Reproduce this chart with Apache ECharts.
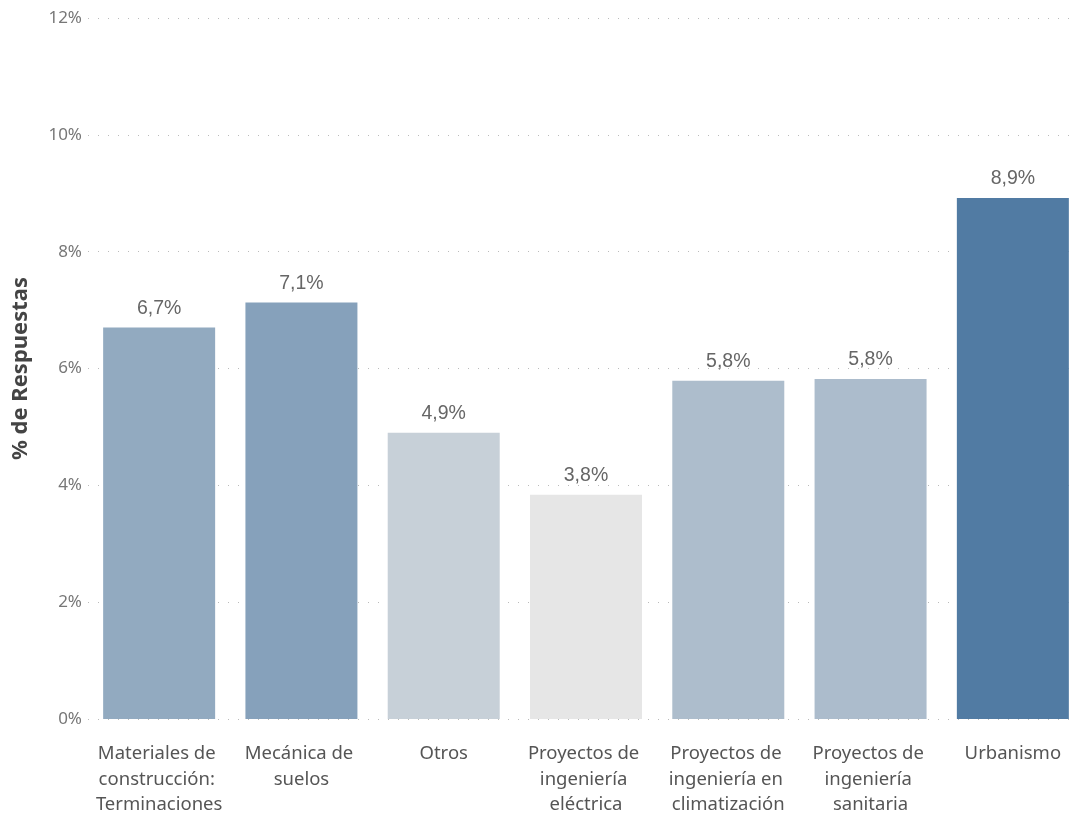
<!DOCTYPE html>
<html>
<head>
<meta charset="utf-8">
<script src="https://cdn.jsdelivr.net/npm/echarts@6/dist/echarts.min.js"></script>
<style>
  html, body { margin: 0; padding: 0; background: #fff; }
  #chart { width: 1076px; height: 821px; }
</style>
</head>
<body>
<div id="chart"></div>
<script>
// categorías y valores (% de respuestas)
const categories = [
  'Materiales de construcción: Terminaciones',
  'Mecánica de suelos',
  'Otros',
  'Proyectos de ingeniería eléctrica',
  'Proyectos de ingeniería en climatización',
  'Proyectos de ingeniería sanitaria',
  'Urbanismo'
]
const values = [6.7, 7.13, 4.9, 3.84, 5.79, 5.82, 8.92]
const yTicks = [0, 2, 4, 6, 8, 10, 12]

const chart = echarts.init(document.getElementById('chart'))

chart.setOption({
  animation: false,
  textStyle: { fontFamily: "'Segoe UI', 'Noto Sans', sans-serif" },
  grid: { left: 88, top: 18, width: 996, height: 701, containLabel: false, outerBoundsMode: 'none' },
  // escala de color según valor (gris claro -> azul)
  visualMap: {
    show: false,
    type: 'continuous',
    dimension: 1,
    min: Math.min(...values),
    max: Math.max(...values),
    inRange: { color: ['#e6e6e6', '#517ba3'] }
  },
  xAxis: {
    type: 'category',
    data: categories,
    axisLine: { show: false },
    axisTick: { show: false },
    axisLabel: {
      interval: 0,
      margin: 22,
      width: 134,
      overflow: 'break',
      lineHeight: 25.5,
      fontSize: 18.5,
      color: '#555'
    }
  },
  yAxis: {
    type: 'value',
    min: yTicks[0],
    max: yTicks[yTicks.length - 1],
    interval: yTicks[1] - yTicks[0],
    name: '% de Respuestas',
    nameLocation: 'middle',
    nameGap: 56,
    nameTextStyle: { fontSize: 22, fontWeight: 'bold', color: '#444' },
    axisLabel: {
      margin: 6,
      fontSize: 17,
      color: '#777',
      formatter: v => v + '%'
    },
    splitLine: {
      lineStyle: { type: [1, 9], color: '#bbb', width: 1 }
    }
  },
  series: [
    {
      type: 'bar',
      data: values,
      barWidth: 112,
      label: {
        show: true,
        position: 'top',
        distance: 9,
        fontSize: 19.5,
        color: '#666',
        fontFamily: "'Liberation Sans', Arial, sans-serif",
        formatter: p => p.value.toFixed(1).replace('.', ',') + '%'
      }
    }
  ]
})
</script>
</body>
</html>
